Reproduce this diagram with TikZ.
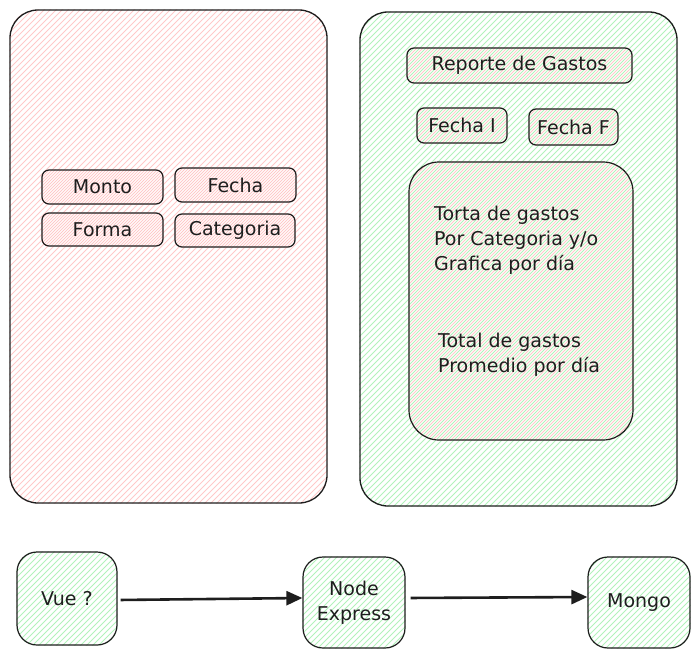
\documentclass[tikz,border=0pt]{standalone}
\usepackage{fontspec}
\setmainfont{DejaVu Sans}
\usetikzlibrary{arrows.meta}
\definecolor{ink}{HTML}{1E1E1E}
\definecolor{pinkh}{HTML}{FFC9C9}
\definecolor{greenh}{HTML}{B2F2BB}
\pgfdeclarelayer{bg}
\pgfsetlayers{bg,main}
\tikzset{
  hand/.style={font={\fontsize{19}{25}\selectfont}, text=ink},
  panel/.style={draw=ink, line width=1.3pt, rounded corners=28pt, inner sep=0pt},
  field/.style={draw=ink, line width=1.2pt, rounded corners=7pt, inner sep=0pt, hand},
  block/.style={draw=ink, line width=1.2pt, rounded corners=20pt, inner sep=0pt, hand, align=center},
  hatchline/.style={line width=1.0pt},
  flow/.style={draw=ink, line width=2.6pt, -{Triangle[length=16pt,width=14pt]}}
}
\newcommand\hatchit[4]{% node, colour, radius, offset
  \begin{scope}
    \clip[rounded corners=#3] (#1.south west) rectangle (#1.north east);
    \foreach \k in {-702,-696,...,702}
      \draw[hatchline, #2] (\k+#4,660) -- ++(660,-660);
  \end{scope}}
\begin{document}
\begin{tikzpicture}[x=1pt,y=-1pt]
\useasboundingbox (0,0) rectangle (699,657);
% panels
\node[panel, minimum width=317pt, minimum height=493pt] (left) at (168.5,256.5) {};
\node[panel, minimum width=317pt, minimum height=494pt] (right) at (518.5,259) {};
% left fields
\node[field, minimum width=121pt, minimum height=34pt] (monto) at (102.5,187) {Monto};
\node[field, minimum width=121pt, minimum height=34pt] (fecha) at (235.5,185) {Fecha};
\node[field, minimum width=121pt, minimum height=33pt] (forma) at (102.5,229.5) {Forma};
\node[field, minimum width=120pt, minimum height=33pt] (categoria) at (235,230.5) {Categoria};
% right content
\node[field, minimum width=225pt, minimum height=35pt] (reporte) at (519.5,65.5) {Reporte de Gastos};
\node[field, minimum width=90pt, minimum height=35pt] (fechai) at (462,125.5) {Fecha I};
\node[field, minimum width=89pt, minimum height=36pt] (fechaf) at (573.5,127) {Fecha F};
\node[field, rounded corners=30pt, minimum width=224pt, minimum height=278pt] (big) at (521,301) {};
\node[hand, align=left, anchor=west, inner sep=0pt] (charts) at (434,240) {Torta de gastos\\Por Categoria y/o\\Grafica por día};
\node[hand, align=left, anchor=west, inner sep=0pt] (totals) at (438,354.5) {Total de gastos\\Promedio por día};
% bottom flow
\node[block, minimum width=100pt, minimum height=93pt] (vue) at (67,598.5) {Vue ?};
\node[block, minimum width=102pt, minimum height=91pt] (node) at (354,602.5) {Node\\Express};
\node[block, minimum width=102pt, minimum height=91pt] (mongo) at (639,602.5) {Mongo};
\draw[flow, shorten <=3pt] (vue.east |- 0,600) -- (node.west |- 0,598);
\draw[flow, shorten <=5pt] (node.east |- 0,598) -- (mongo.west |- 0,597);
% hachure fills
\begin{pgfonlayer}{bg}
  \hatchit{left}{pinkh}{28pt}{0}
  \hatchit{right}{greenh}{28pt}{0}
  \hatchit{monto}{pinkh}{7pt}{3}
  \hatchit{fecha}{pinkh}{7pt}{3}
  \hatchit{forma}{pinkh}{7pt}{3}
  \hatchit{categoria}{pinkh}{7pt}{3}
  \hatchit{reporte}{pinkh}{7pt}{3}
  \hatchit{fechai}{pinkh}{7pt}{3}
  \hatchit{fechaf}{pinkh}{7pt}{3}
  \hatchit{big}{pinkh}{30pt}{3}
  \hatchit{vue}{greenh}{20pt}{0}
  \hatchit{node}{greenh}{20pt}{0}
  \hatchit{mongo}{greenh}{20pt}{0}
\end{pgfonlayer}
\end{tikzpicture}
\end{document}
